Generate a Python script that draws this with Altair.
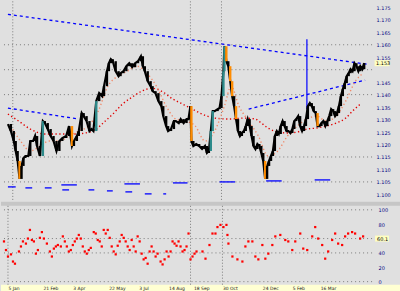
import altair as alt
import pandas as pd

# ---------------- price panel data (bar index, close level) ----------------
bar_day = [2, 5, 8, 10, 12, 14, 16, 18, 20, 23, 25, 28, 30, 32, 35, 38, 40, 43, 46, 49,
           52, 55, 58, 62, 65, 68, 70, 73, 75, 78, 80, 83, 86, 88, 90, 93, 96, 99, 101, 104,
           106, 108, 110, 113, 116, 118, 121, 124, 127, 130, 133, 136, 139, 141, 143, 146, 149, 151, 154, 157,
           160, 162, 165, 167, 170, 173, 175, 178, 180, 183, 186, 188, 190, 191, 193, 196, 199, 202, 205, 207,
           209, 211, 213, 215, 218, 220, 222, 224, 225, 227, 229, 231, 233, 235, 237, 239, 241, 243, 245, 247,
           249, 251, 253, 255, 257, 259, 261, 263, 265, 267, 269, 271, 273, 275, 277, 279, 281, 283, 285, 287,
           289, 291, 293, 295, 297, 299, 301, 303, 305, 307, 309, 311, 313, 315, 317, 319, 321, 323, 325, 327,
           329, 331, 333, 335, 337, 339, 341, 343, 345, 347, 349, 351, 353, 355, 357, 359, 361, 363, 365, 367, 369]
bar_close = [77, 70, 60, 50, 40, 22, 35, 43, 45, 45, 60, 60, 65, 55, 45, 80, 78, 72, 65, 60,
             50, 60, 63, 65, 75, 55, 60, 65, 70, 88, 85, 80, 70, 72, 70, 100, 108, 105, 115, 130,
             138, 142, 140, 130, 125, 128, 130, 135, 138, 134, 138, 140, 145, 135, 130, 120, 115, 110, 108, 100,
             95, 85, 75, 70, 72, 80, 80, 78, 82, 78, 82, 82, 95, 60, 55, 57, 55, 52, 55, 48,
             50, 70, 90, 90, 92, 93, 105, 130, 155, 140, 135, 120, 105, 95, 82, 70, 65, 68, 70, 75,
             82, 75, 65, 55, 52, 57, 55, 48, 40, 22, 35, 40, 45, 50, 65, 70, 67, 75, 80, 75,
             70, 70, 68, 72, 80, 82, 85, 75, 70, 75, 82, 95, 98, 95, 90, 88, 75, 75, 78, 80,
             75, 80, 85, 92, 90, 85, 88, 95, 105, 112, 118, 125, 128, 132, 130, 138, 135, 130, 135, 132, 138]

ma_slow_day = [2, 13, 25, 40, 55, 70, 90, 100, 110, 120, 130, 140, 150, 160, 172, 182, 192, 202, 215, 230,
               245, 257, 263, 270, 280, 290, 300, 310, 320, 330, 340, 350, 357, 365]
ma_slow_val = [87, 80, 72, 67, 67, 67, 70, 78, 87, 97, 104, 110, 113, 110, 102, 97, 92, 87, 83, 82,
               83, 82, 78, 73, 69, 68, 69, 72, 73, 75, 78, 83, 90, 97]

ma_fast_day = [5, 15, 25, 35, 45, 55, 65, 75, 85, 95, 105, 115, 125, 135, 145, 155, 165, 175, 185, 195,
               205, 215, 225, 232, 240, 250, 260, 270, 280, 290, 300, 310, 320, 330, 340, 350, 360, 368]
ma_fast_val = [75, 60, 50, 55, 60, 60, 65, 70, 75, 90, 115, 125, 130, 135, 128, 115, 95, 82, 80, 75,
               60, 70, 95, 115, 95, 80, 65, 45, 50, 65, 75, 82, 85, 80, 85, 100, 120, 128]

trend_id = ["long", "long", "left", "left", "rise", "rise"]
trend_day = [2, 372, 2, 75, 250, 370]
trend_val = [187, 137, 93, 82, 92, 121]

vline_day = [310]
vline_top = [162]
vline_bottom = [92]

seg_start = [2, 20, 40, 57, 58, 85, 104, 122, 123, 143, 162, 172, 220, 268, 318]
seg_end = [10, 27, 47, 73, 65, 91, 110, 138, 130, 150, 165, 187, 236, 284, 334]
seg_val = [14, 13, 13, 16, 11, 11, 10, 17, 9, 7, 7, 18, 19, 20, 21]

price_ticks = [194, 181.5, 169, 156.5, 144, 119, 106.5, 94, 81.5, 69, 56.5, 44, 31.5, 19, 6.5]
price_labels = ["1.175", "1.170", "1.165", "1.160", "1.155", "1.145", "1.140",
                "1.135", "1.130", "1.125", "1.120", "1.115", "1.110", "1.105", "1.100"]
price_grid = [156.5, 131.5, 106.5, 44, 19]
current_price_val = [138]
current_price_text = ["1.153"]

# ---------------- oscillator panel ----------------
osc_day = [3, 5, 7, 10, 12, 14, 18, 20, 22, 25, 27, 29, 31, 33, 35, 37, 39, 41, 43, 46,
           49, 51, 53, 55, 57, 60, 62, 64, 66, 68, 70, 72, 74, 76, 78, 80, 82, 84, 86, 88,
           90, 93, 95, 97, 99, 101, 103, 105, 107, 109, 111, 113, 115, 117, 119, 121, 123, 125, 127, 129,
           131, 133, 135, 137, 139, 141, 143, 145, 147, 149, 151, 153, 155, 157, 160, 162, 164, 166, 168, 170,
           172, 174, 176, 178, 180, 182, 184, 186, 188, 190, 192, 194, 196, 202, 205, 209, 212, 215, 217, 220,
           223, 226, 227, 228, 232, 237, 242, 245, 248, 252, 255, 258, 262, 265, 268, 272, 275, 280, 285, 288,
           292, 295, 300, 303, 307, 312, 315, 318, 322, 325, 328, 332, 335, 338, 342, 345, 348, 352, 355, 360, 363]
osc_val = [56, 44, 35, 38, 28, 25, 42, 49, 56, 53, 60, 72, 58, 56, 39, 44, 61, 69, 60, 53,
           42, 35, 46, 49, 51, 49, 63, 56, 49, 42, 44, 51, 56, 60, 65, 60, 49, 42, 39, 44,
           47, 69, 67, 58, 56, 49, 72, 67, 72, 61, 49, 42, 38, 50, 56, 65, 61, 56, 49, 44,
           58, 49, 42, 63, 56, 39, 31, 33, 25, 42, 49, 42, 35, 39, 28, 24, 31, 42, 35, 42,
           56, 53, 50, 56, 49, 42, 44, 49, 67, 31, 35, 39, 42, 42, 32, 51, 67, 67, 76, 79,
           76, 79, 65, 53, 35, 31, 28, 49, 56, 56, 35, 31, 51, 32, 39, 51, 63, 65, 58, 56,
           44, 56, 67, 46, 44, 63, 76, 60, 51, 32, 42, 58, 67, 53, 51, 63, 67, 69, 67, 60, 63]
osc_ticks = [100, 80, 40, 20, 0]
osc_grid = [100, 60, 40, 0]
current_osc_val = [60]
current_osc_text = ["60.1"]

separators = [7, 190, 222]
date_ticks = [7, 42, 72, 108, 138, 168, 193, 222, 262, 292, 320]
date_labels = ["5 Jan", "21 Feb", "3 Apr", "22 May", "3 Jul", "14 Aug",
               "18 Sep", "30 Oct", "24 Dec", "5 Feb", "16 Mar"]

# ---------------- build tables ----------------
bars = pd.DataFrame({"day": bar_day, "close": bar_close})
bars["open"] = bars["close"].shift(1).fillna(bars["close"])
bars["kind"] = "flat"
bars.loc[bars["close"] < bars["open"] - 12, "kind"] = "down"
bars.loc[bars["close"] > bars["open"] + 18, "kind"] = "up"

W = 372
HT = 200
HB = 83
xs = alt.Scale(domain=[0, W], nice=False, zero=False)
ys = alt.Scale(domain=[0, 200], nice=False, zero=False)
os_ = alt.Scale(domain=[-4.2, 111.1], nice=False, zero=False)

FONT = "DejaVu Sans"


def lookup_expr(vals, labels):
    v = ",".join(str(x) for x in vals)
    l = ",".join("'" + s + "'" for s in labels)
    return "[" + l + "][indexof([" + v + "], datum.value)]"


price_axis = alt.Axis(orient="right", values=price_ticks, labelExpr=lookup_expr(price_ticks, price_labels),
                      labelFontSize=5, labelColor="#000080", labelFont=FONT, ticks=False,
                      domain=False, grid=False, labelPadding=4, title=None, labelOverlap=False)
osc_axis = alt.Axis(orient="right", values=osc_ticks, labelFontSize=5, labelColor="#000080",
                    labelFont=FONT, ticks=False, domain=False, grid=False, labelPadding=6,
                    title=None, labelOverlap=False)
date_axis = alt.Axis(orient="bottom", values=date_ticks, labelExpr=lookup_expr(date_ticks, date_labels),
                     labelFontSize=4.5, labelColor="#202020", labelFont=FONT, labelAlign="left",
                     labelBaseline="top", ticks=False, domain=False, grid=False, labelPadding=0.5,
                     title=None, labelOverlap=False, zindex=2)

dot = [1, 3]


def TX(f):
    return alt.X(f, scale=xs, axis=None)


def TY(f):
    return alt.Y(f, scale=ys, axis=price_axis)


def BX(f):
    return alt.X(f, scale=xs, axis=date_axis)


def BY(f):
    return alt.Y(f, scale=os_, axis=osc_axis)


# ---- top panel ----
t_grid = alt.Chart(pd.DataFrame({"v": price_grid})).mark_rule(color="#7a7a7a", strokeDash=dot, strokeWidth=1).encode(
    y=TY("v:Q"))
t_sep = alt.Chart(pd.DataFrame({"d": separators})).mark_rule(color="#7a7a7a", strokeDash=[1, 2], strokeWidth=1).encode(
    x=TX("d:Q"))
t_trend = alt.Chart(pd.DataFrame({"id": trend_id, "d": trend_day, "v": trend_val})).mark_line(
    color="#0000ff", strokeDash=[3, 3], strokeWidth=1.3).encode(
    x=TX("d:Q"), y=TY("v:Q"), detail="id:N")
t_vline = alt.Chart(pd.DataFrame({"d": vline_day, "a": vline_top, "b": vline_bottom})).mark_rule(
    color="#0000ff", strokeWidth=1.2).encode(
    x=TX("d:Q"), y=TY("a:Q"), y2="b:Q")
t_segs = alt.Chart(pd.DataFrame({"a": seg_start, "b": seg_end, "v": seg_val})).mark_rule(
    color="#0000ff", strokeWidth=1.3).encode(
    x=TX("a:Q"), x2="b:Q", y=TY("v:Q"))
t_slow = alt.Chart(pd.DataFrame({"d": ma_slow_day, "v": ma_slow_val})).mark_line(
    color="#e00000", strokeDash=[1.3, 2.5], strokeWidth=1.4, interpolate="monotone").encode(
    x=TX("d:Q"), y=TY("v:Q"))
t_fast = alt.Chart(pd.DataFrame({"d": ma_fast_day, "v": ma_fast_val})).mark_line(
    color="#f08a6a", strokeDash=[1.3, 2.5], strokeWidth=1.4, interpolate="monotone").encode(
    x=TX("d:Q"), y=TY("v:Q"))
t_line = alt.Chart(bars).mark_line(color="#000000", strokeWidth=2.2).encode(
    x=TX("day:Q"), y=TY("close:Q"))
t_bars = alt.Chart(bars).mark_bar(width=2.4).encode(
    x=TX("day:Q"), y=TY("open:Q"), y2="close:Q",
    color=alt.Color("kind:N", scale=alt.Scale(domain=["flat", "down", "up"],
                                              range=["#000000", "#ff8c00", "#2e8b8b"]), legend=None))
t_cur_bg = alt.Chart(pd.DataFrame({"v": current_price_val})).mark_tick(
    orient="horizontal", size=15, thickness=6, color="#ffffc0", opacity=1).encode(
    x=alt.value(W + 10), y=TY("v:Q"))
t_cur = alt.Chart(pd.DataFrame({"v": current_price_val, "t": current_price_text})).mark_text(
    fontSize=5, font=FONT, color="#000000", align="left", baseline="middle").encode(
    x=alt.value(W + 4), y=TY("v:Q"), text="t:N")

top = alt.layer(t_grid, t_sep, t_trend, t_vline, t_segs, t_slow, t_fast, t_line, t_bars, t_cur_bg, t_cur).properties(
    width=W, height=HT)

# ---- bottom panel ----
one = pd.DataFrame({"k": [0]})
b_band = alt.Chart(one).mark_rect(color="#c6c6c6").encode(
    x=alt.value(0), x2=alt.value(400), y=alt.value(0), y2=alt.value(4))
b_strip = alt.Chart(one).mark_rect(color="#ffffd2").encode(
    x=alt.value(0), x2=alt.value(400), y=alt.value(HB), y2=alt.value(HB + 10))
b_grid = alt.Chart(pd.DataFrame({"v": osc_grid})).mark_rule(color="#7a7a7a", strokeDash=dot, strokeWidth=1).encode(
    y=BY("v:Q"))
b_sep = alt.Chart(pd.DataFrame({"d": separators})).mark_rule(color="#7a7a7a", strokeDash=[1, 2], strokeWidth=1).encode(
    x=BX("d:Q"), y=alt.value(4), y2=alt.value(HB))
b_osc = alt.Chart(pd.DataFrame({"d": osc_day, "v": osc_val})).mark_square(
    size=5, color="#ff0000", opacity=1).encode(
    x=BX("d:Q"), y=BY("v:Q"))
b_cur_bg = alt.Chart(pd.DataFrame({"v": current_osc_val})).mark_tick(
    orient="horizontal", size=14, thickness=6, color="#ffffc0", opacity=1).encode(
    x=alt.value(W + 10), y=BY("v:Q"))
b_cur = alt.Chart(pd.DataFrame({"v": current_osc_val, "t": current_osc_text})).mark_text(
    fontSize=5, font=FONT, color="#000000", align="left", baseline="middle").encode(
    x=alt.value(W + 5), y=BY("v:Q"), text="t:N")

bottom = alt.layer(b_band, b_strip, b_grid, b_sep, b_osc, b_cur_bg, b_cur).properties(width=W, height=HB)

chart = alt.vconcat(top, bottom, spacing=0).properties(
    background="#e0e0e0", padding=0
).configure_view(stroke=None).configure_concat(spacing=0)

chart.save("out.html", embed_options={"renderer": "svg", "actions": False})
